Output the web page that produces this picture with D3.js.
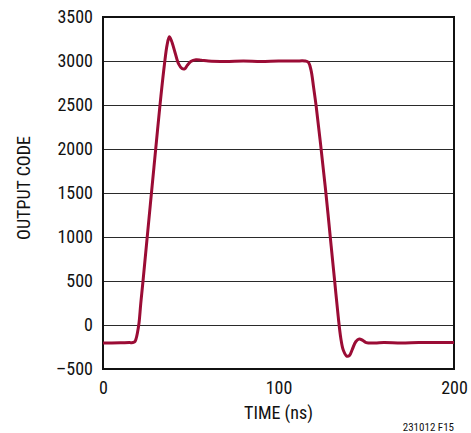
<!DOCTYPE html>
<html>
<head>
<meta charset="utf-8">
<script src="https://cdn.jsdelivr.net/npm/d3@7"></script>
<style>
  body { margin: 0; background: #fff; }
  text { font-family: "Liberation Sans Narrow", "Arial Narrow", "Roboto Condensed", "Liberation Sans", sans-serif; fill: #111; }
</style>
</head>
<body>
<svg id="chart" width="471" height="433"></svg>
<script>
// time in ns and output code
const timeNs = [0, 5, 10, 15, 17, 18, 18.8, 19.6, 20.5, 21.5, 22.8, 25, 28, 31, 33, 35, 36.5, 37.8, 39, 41, 43, 45, 46.5, 48, 50, 53, 56, 60, 70, 80, 90, 100, 110, 115, 117, 118.5, 120, 121.5, 124, 127, 130, 132, 134, 135.5, 137, 139, 140.5, 142, 144, 146, 148, 150, 155, 160, 170, 180, 190, 200];
const outputCode = [-205, -205, -203, -200, -200, -193, -160, -90, 20, 240, 500, 960, 1580, 2200, 2600, 2960, 3180, 3275, 3230, 3100, 2970, 2915, 2910, 2950, 2995, 3015, 3010, 3000, 2995, 3000, 2995, 3000, 3000, 3000, 2985, 2900, 2700, 2480, 2050, 1500, 900, 500, 100, -150, -290, -355, -345, -280, -190, -158, -175, -200, -205, -200, -205, -200, -200, -200];

const xTicks = [0, 100, 200];
const yTicks = [-500, 0, 500, 1000, 1500, 2000, 2500, 3000, 3500];

const svg = d3.select("#chart");
const MARGIN = { LEFT: 103, RIGHT: 17, TOP: 17, BOTTOM: 64 };
const width = 471, height = 433;

//** SCALES ****************************
let xScale = d3.scaleLinear()
    .domain([0, 200])
    .range([MARGIN.LEFT, width - MARGIN.RIGHT]);

let yScale = d3.scaleLinear()
    .domain([-500, 3500])
    .range([height - MARGIN.BOTTOM, MARGIN.TOP]);

//** GRID ******************************
svg.append("g")
    .selectAll("line")
    .data(yTicks.slice(1, -1))
    .enter()
    .append("line")
    .attr("x1", xScale(0))
    .attr("x2", xScale(200))
    .attr("y1", d => Math.round(yScale(d)) + 0.5)
    .attr("y2", d => Math.round(yScale(d)) + 0.5)
    .attr("stroke", "#2a2a2a")
    .attr("stroke-width", 1);

//** AXES ******************************
let yAxis = d3.axisLeft(yScale)
    .tickValues(yTicks)
    .tickSize(0)
    .tickPadding(10)
    .tickFormat(d => d < 0 ? "\u2013" + Math.abs(d) : d);

let yG = svg.append("g")
    .attr("transform", "translate(" + MARGIN.LEFT + ",0)")
    .call(yAxis);
yG.select(".domain").remove();
yG.selectAll("text").attr("font-size", 18).attr("font-family", null);

let xAxis = d3.axisBottom(xScale)
    .tickValues(xTicks)
    .tickSize(0)
    .tickPadding(12);

let xG = svg.append("g")
    .attr("transform", "translate(0," + (height - MARGIN.BOTTOM) + ")")
    .call(xAxis);
xG.select(".domain").remove();
xG.selectAll("text").attr("font-size", 18).attr("font-family", null);

// frame
svg.append("rect")
    .attr("x", xScale(0))
    .attr("y", yScale(3500))
    .attr("width", xScale(200) - xScale(0))
    .attr("height", yScale(-500) - yScale(3500))
    .attr("fill", "none")
    .attr("stroke", "#111")
    .attr("stroke-width", 2);

//** CURVE *****************************
let line = d3.line()
    .x((d, i) => xScale(timeNs[i]))
    .y(d => yScale(d))
    .curve(d3.curveCatmullRom.alpha(0.5));

svg.append("path")
    .datum(outputCode)
    .attr("d", line)
    .attr("fill", "none")
    .attr("stroke", "#9b0c35")
    .attr("stroke-width", 3)
    .attr("stroke-linejoin", "round");

//** LABELS ****************************
svg.append("text")
    .attr("x", (xScale(0) + xScale(200)) / 2)
    .attr("y", 419)
    .attr("text-anchor", "middle")
    .attr("font-size", 18)
    .text("TIME (ns)");

svg.append("text")
    .attr("transform", "translate(30,188) rotate(-90)")
    .attr("text-anchor", "middle")
    .attr("font-size", 18)
    .text("OUTPUT CODE");

svg.append("text")
    .attr("x", xScale(200))
    .attr("y", 431)
    .attr("text-anchor", "end")
    .attr("font-size", 11)
    .text("231012 F15");
</script>
</body>
</html>
